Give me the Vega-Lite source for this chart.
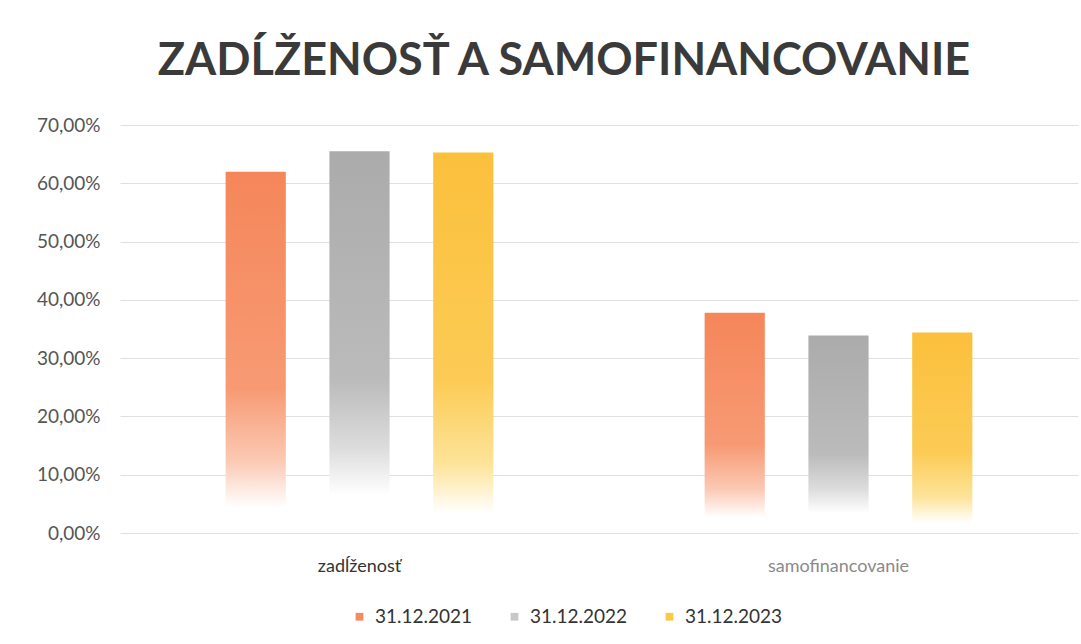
{
  "$schema": "https://vega.github.io/schema/vega-lite/v6.json",
  "autosize": {"type": "none"},
  "width": 958,
  "height": 408,
  "padding": {"left": 120, "top": 125, "right": 3, "bottom": 111},
  "background": "#ffffff",
  "config": {
    "locale": {"number": {"decimal": ",", "thousands": " ", "grouping": [3], "currency": ["", " €"]}},
    "view": {"stroke": null},
    "font": "Lato"
  },
  "title": {
    "text": "ZADĹŽENOSŤ A  SAMOFINANCOVANIE",
    "font": "Lato",
    "fontSize": 45,
    "fontWeight": "bold",
    "color": "#3a3a3a",
    "anchor": "middle",
    "frame": "group",
    "baseline": "alphabetic",
    "offset": -4,
    "dx": -35
  },
  "data": {
    "values": [
      {"kategoria": "zadĺženosť", "obdobie": "31.12.2021", "hodnota": 0.620},
      {"kategoria": "zadĺženosť", "obdobie": "31.12.2022", "hodnota": 0.655},
      {"kategoria": "zadĺženosť", "obdobie": "31.12.2023", "hodnota": 0.653},
      {"kategoria": "samofinancovanie", "obdobie": "31.12.2021", "hodnota": 0.378},
      {"kategoria": "samofinancovanie", "obdobie": "31.12.2022", "hodnota": 0.339},
      {"kategoria": "samofinancovanie", "obdobie": "31.12.2023", "hodnota": 0.344}
    ]
  },
  "encoding": {
    "x": {
      "field": "kategoria",
      "type": "nominal",
      "sort": ["zadĺženosť", "samofinancovanie"],
      "scale": {"paddingInner": 0.35, "paddingOuter": 0.175},
      "axis": {
        "title": null,
        "labelAngle": 0,
        "labelFontSize": 18,
        "labelColor": {"condition": {"test": "datum.value == 'samofinancovanie'", "value": "#8a8a8a"}, "value": "#333333"},
        "labelPadding": 24,
        "ticks": false,
        "domain": false,
        "grid": false
      }
    },
    "xOffset": {
      "field": "obdobie",
      "type": "nominal",
      "sort": ["31.12.2021", "31.12.2022", "31.12.2023"],
      "scale": {"paddingInner": 0.42, "paddingOuter": 0.21}
    },
    "y": {
      "field": "hodnota",
      "type": "quantitative",
      "stack": null,
      "scale": {"domain": [0, 0.7], "nice": false},
      "axis": {
        "title": null,
        "format": ".2%",
        "values": [0, 0.1, 0.2, 0.3, 0.4, 0.5, 0.6, 0.7],
        "labelOverlap": false,
        "labelFontSize": 19,
        "labelColor": "#555555",
        "labelPadding": 20,
        "ticks": false,
        "domain": false,
        "gridColor": "#e0e0e0",
        "gridWidth": 1
      }
    }
  },
  "layer": [
    {
      "transform": [{"filter": "datum.obdobie == '31.12.2021'"}],
      "mark": {
        "type": "bar",
        "fill": {"gradient": "linear", "x1": 0, "y1": 0, "x2": 0, "y2": 1,
          "stops": [{"offset": 0, "color": "#F5865A"}, {"offset": 0.6, "color": "#F79A74"}, {"offset": 0.8, "color": "#FBC9B3"}, {"offset": 0.93, "color": "#FFFFFF"}, {"offset": 1, "color": "#FFFFFF"}]}
      }
    },
    {
      "transform": [{"filter": "datum.obdobie == '31.12.2022'"}],
      "mark": {
        "type": "bar",
        "fill": {"gradient": "linear", "x1": 0, "y1": 0, "x2": 0, "y2": 1,
          "stops": [{"offset": 0, "color": "#ABABAB"}, {"offset": 0.6, "color": "#BBBBBB"}, {"offset": 0.78, "color": "#DDDDDD"}, {"offset": 0.9, "color": "#FFFFFF"}, {"offset": 1, "color": "#FFFFFF"}]}
      }
    },
    {
      "transform": [{"filter": "datum.obdobie == '31.12.2023'"}],
      "mark": {
        "type": "bar",
        "fill": {"gradient": "linear", "x1": 0, "y1": 0, "x2": 0, "y2": 1,
          "stops": [{"offset": 0, "color": "#FBC03C"}, {"offset": 0.6, "color": "#FCCB55"}, {"offset": 0.82, "color": "#FDE49A"}, {"offset": 0.95, "color": "#FFFFFF"}, {"offset": 1, "color": "#FFFFFF"}]}
      }
    },
    {
      "mark": {"type": "bar", "opacity": 0},
      "encoding": {
        "color": {
          "field": "obdobie",
          "type": "nominal",
          "scale": {"domain": ["31.12.2021", "31.12.2022", "31.12.2023"], "range": ["#F58A64", "#C8C8C8", "#FBC94A"]},
          "legend": {
            "title": null,
            "orient": "none",
            "direction": "horizontal",
            "legendX": 230,
            "legendY": 482,
            "symbolType": "square",
            "symbolSize": 60,
            "symbolOpacity": 1,
            "symbolStrokeWidth": 0,
            "labelFontSize": 19,
            "labelColor": "#333333",
            "labelOffset": 6,
            "columnPadding": 32
          }
        }
      }
    }
  ]
}
